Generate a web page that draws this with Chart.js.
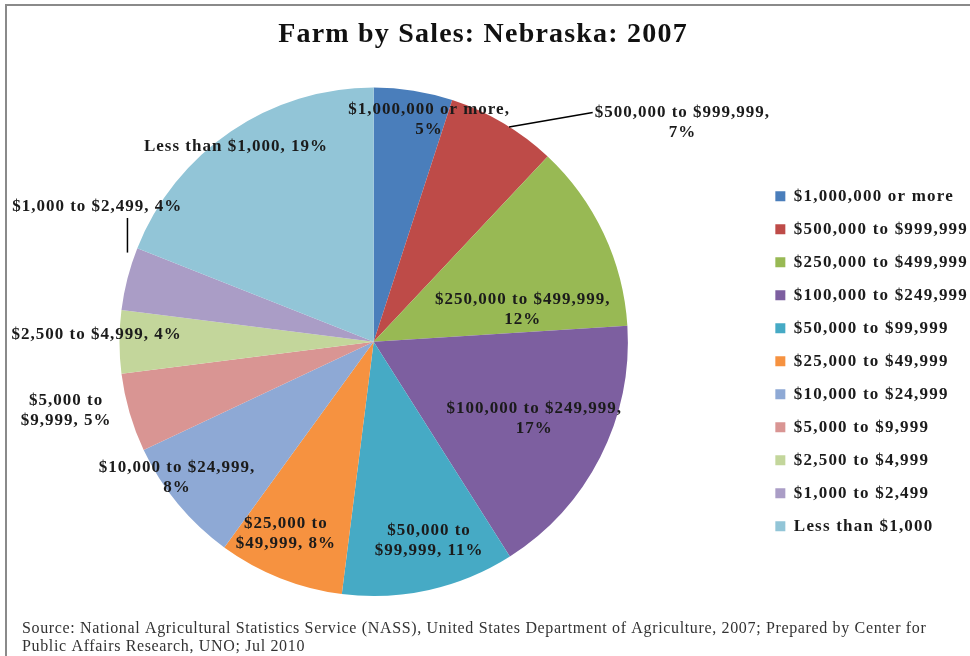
<!DOCTYPE html>
<html>
<head>
<meta charset="utf-8">
<style>
  html, body { margin: 0; padding: 0; background: #fff; }
  #wrap { width: 970px; height: 656px; position: relative; }
</style>
<script src="https://cdn.jsdelivr.net/npm/chart.js@4/dist/chart.umd.min.js"></script>
</head>
<body>
<div id="wrap"><canvas id="farmChart" width="970" height="656"></canvas></div>
<script>
// data
const categories = [
    '$1,000,000 or more',
    '$500,000 to $999,999',
    '$250,000 to $499,999',
    '$100,000 to $249,999',
    '$50,000 to $99,999',
    '$25,000 to $49,999',
    '$10,000 to $24,999',
    '$5,000 to $9,999',
    '$2,500 to $4,999',
    '$1,000 to $2,499',
    'Less than $1,000'
];
const shares = [5, 7, 12, 17, 11, 8, 8, 5, 4, 4, 19]; // percent of farms

const sliceColors = ['#4a7ebb', '#be4b48', '#98b954', '#7d5fa0', '#46aac5', '#f69240',
                     '#8ea9d5', '#d99593', '#c3d69b', '#aa9dc6', '#92c5d7'];

// label placement per slice: radius factor, turn from mid angle (deg), where to wrap
const labelRadius = [0.90, 1.49, 0.60, 0.70, 0.81, 0.83, 0.94, 1.24, 1.09, 1.21, 0.94];
const labelTurn   = [5, 24, 13, -1.5, -3, 3, 5, 3.6, 1.5, 11.6, -1];
const labelWrap   = ['pct', 'pct', 'pct', 'pct', 'to', 'to', 'pct', 'to', '', '', ''];
const leaderLines = [1, 9];

const serif = '"Liberation Serif", "Times New Roman", serif';

function labelLines(i) {
    const pct = shares[i] + '%';
    if (labelWrap[i] === 'pct') return [categories[i] + ',', pct];
    if (labelWrap[i] === 'to') {
        const k = categories[i].indexOf(' to ') + 3;
        return [categories[i].slice(0, k), categories[i].slice(k + 1) + ', ' + pct];
    }
    return [categories[i] + ', ' + pct];
}

// the reference text is set wide, so spread the letters a bit
const wideText = {
    id: 'wideText',
    beforeLayout(chart) {
        chart.ctx.letterSpacing = '1.2px';
    },
    afterLayout(chart) {
        const lg = chart.legend;
        lg.left += 12; lg.right += 12;
        lg.top += 45; lg.bottom += 45;
    }
};

const sliceLabels = {
    id: 'sliceLabels',
    afterDatasetsDraw(chart) {
        const ctx = chart.ctx;
        const arcs = chart.getDatasetMeta(0).data;
        const lineH = 20;
        ctx.save();
        ctx.letterSpacing = '1px';
        ctx.font = 'bold 17px ' + serif;
        ctx.fillStyle = '#1b1b1b';
        ctx.textAlign = 'center';
        ctx.textBaseline = 'middle';
        arcs.forEach((arc, i) => {
            const p = arc.getProps(['x', 'y', 'startAngle', 'endAngle', 'outerRadius'], true);
            const mid = (p.startAngle + p.endAngle) / 2;
            const a = mid + labelTurn[i] * Math.PI / 180;
            const cx = p.x + Math.cos(a) * p.outerRadius * labelRadius[i];
            const cy = p.y + Math.sin(a) * p.outerRadius * labelRadius[i];
            const lines = labelLines(i);
            const top = cy - (lines.length - 1) * lineH / 2;
            lines.forEach((t, j) => ctx.fillText(t, cx, top + j * lineH));

            if (leaderLines.includes(i)) {
                const ex = p.x + Math.cos(mid) * p.outerRadius;
                const ey = p.y + Math.sin(mid) * p.outerRadius;
                ctx.beginPath();
                ctx.strokeStyle = '#000';
                ctx.lineWidth = 1.5;
                if (ex > p.x) {
                    const w = ctx.measureText(lines[0]).width;
                    ctx.moveTo(ex + 6, ey + 4);
                    ctx.lineTo(cx - w / 2 - 2, top);
                } else {
                    ctx.moveTo(ex, ey - 26);
                    ctx.lineTo(ex, cy + 11);
                }
                ctx.stroke();
            }
        });
        ctx.restore();
    }
};

const frameAndSource = {
    id: 'frameAndSource',
    afterDraw(chart) {
        const ctx = chart.ctx;
        ctx.save();
        ctx.strokeStyle = '#8a8a8a';
        ctx.lineWidth = 2;
        ctx.beginPath();
        ctx.moveTo(6, 656);
        ctx.lineTo(6, 5);
        ctx.lineTo(970, 5);
        ctx.stroke();

        ctx.letterSpacing = '0.65px';
        ctx.font = '16px ' + serif;
        ctx.fillStyle = '#333';
        ctx.textAlign = 'left';
        ctx.textBaseline = 'alphabetic';
        ctx.fillText('Source: National Agricultural Statistics Service (NASS), United States Department of Agriculture, 2007; Prepared by Center for', 22, 633, 905);
        ctx.fillText('Public Affairs Research, UNO; Jul 2010', 22, 651);
        ctx.restore();
    }
};

new Chart(document.getElementById('farmChart'), {
    type: 'pie',
    data: {
        labels: categories,
        datasets: [{
            data: shares,
            backgroundColor: sliceColors,
            borderWidth: 0
        }]
    },
    options: {
        responsive: false,
        animation: false,
        layout: { padding: { left: 0, right: 4, top: 0, bottom: 60 } },
        plugins: {
            title: {
                display: true,
                text: 'Farm by Sales: Nebraska: 2007',
                color: '#111',
                font: { family: serif, size: 28, weight: 'bold' },
                padding: { top: 18, bottom: 36 }
            },
            legend: {
                position: 'right',
                title: { display: true, text: '', font: { size: 12 }, padding: { top: 0, bottom: 22 } },
                labels: {
                    color: '#1b1b1b',
                    font: { family: serif, size: 17, weight: 'bold' },
                    boxWidth: 10,
                    boxHeight: 10,
                    padding: 16
                }
            },
            tooltip: { enabled: false }
        }
    },
    plugins: [wideText, sliceLabels, frameAndSource]
});
</script>
</body>
</html>
